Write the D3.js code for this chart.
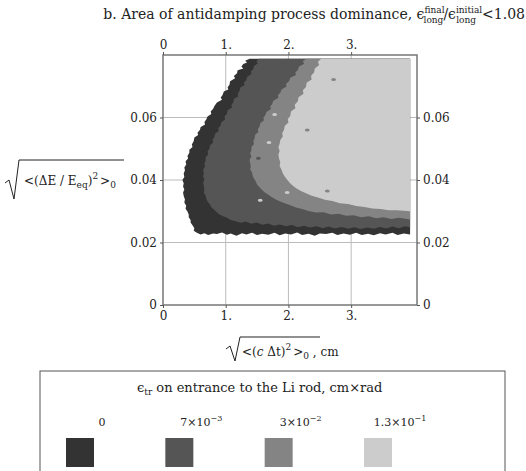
<!DOCTYPE html>
<html>
<head>
<meta charset="utf-8">
<script src="https://cdn.jsdelivr.net/npm/d3@7"></script>
<style>
body { margin: 0; background: #fff; }
text { font-family: "DejaVu Serif", serif; fill: #222; }
</style>
</head>
<body>
<svg id="chart" width="526" height="471"></svg>
<script>
// tick values
var xTicks = [0, 1, 2, 3];
var xTickLabels = ["0", "1.", "2.", "3."];
var yTicks = [0, 0.02, 0.04, 0.06];
var yTickLabels = ["0", "0.02", "0.04", "0.06"];

// region boundaries [x, y], one polygon per emittance level (nested)
var level0 = [[1.38,0.0788],[1.31,0.0782],[1.34,0.0776],[1.28,0.0771],[1.25,0.0763],[1.28,0.0757],[1.19,0.0751],
	[1.18,0.0742],[1.13,0.0733],[1.15,0.0726],[1.07,0.0716],[1.06,0.0705],[1.03,0.0697],[1.04,0.0690],[0.97,0.0683],
	[0.95,0.0672],[0.92,0.0664],[0.94,0.0657],[0.86,0.0648],[0.82,0.0637],[0.80,0.0628],[0.76,0.0619],[0.77,0.0611],
	[0.71,0.0603],[0.69,0.0594],[0.66,0.0586],[0.67,0.0578],[0.60,0.0570],[0.59,0.0561],[0.55,0.0551],[0.56,0.0544],
	[0.50,0.0536],[0.49,0.0525],[0.46,0.0514],[0.47,0.0506],[0.42,0.0497],[0.42,0.0487],[0.39,0.0477],[0.40,0.0469],
	[0.36,0.0460],[0.37,0.0450],[0.34,0.0440],[0.35,0.0431],[0.33,0.0421],[0.34,0.0410],[0.31,0.0400],[0.33,0.0390],
	[0.32,0.0379],[0.34,0.0370],[0.32,0.0360],[0.33,0.0349],[0.35,0.0338],[0.34,0.0328],[0.37,0.0318],[0.36,0.0308],
	[0.39,0.0299],[0.41,0.0290],[0.41,0.0281],[0.44,0.0272],[0.44,0.0264],[0.47,0.0255],[0.50,0.0246],[0.49,0.0238],
	[0.54,0.0231],
	[0.60,0.0226],[0.66,0.0230],[0.72,0.0224],[0.80,0.0229],[0.86,0.0227],[0.94,0.0232],[1.02,0.0225],[1.08,0.0229],
	[1.17,0.0222],[1.26,0.0230],[1.33,0.0226],[1.42,0.0231],[1.50,0.0224],[1.58,0.0228],[1.68,0.0225],[1.78,0.0231],
	[1.86,0.0223],[1.95,0.0229],[2.04,0.0226],[2.14,0.0232],[2.22,0.0224],[2.32,0.0228],[2.42,0.0222],[2.50,0.0229],
	[2.60,0.0227],[2.70,0.0231],[2.78,0.0224],[2.88,0.0229],[2.98,0.0225],[3.08,0.0231],[3.17,0.0224],[3.27,0.0228],
	[3.36,0.0223],[3.46,0.0230],[3.55,0.0226],[3.66,0.0231],[3.74,0.0224],[3.84,0.0229],[3.94,0.0226],[3.94,0.0788]];
var level1 = [[1.53,0.0788],[1.49,0.0780],[1.51,0.0773],[1.45,0.0765],[1.44,0.0755],[1.40,0.0747],[1.41,0.0739],
	[1.34,0.0730],[1.33,0.0720],[1.29,0.0712],[1.30,0.0704],[1.23,0.0695],[1.22,0.0685],[1.19,0.0676],[1.20,0.0668],
	[1.13,0.0659],[1.12,0.0648],[1.09,0.0640],[1.10,0.0632],[1.03,0.0623],[1.02,0.0612],[0.98,0.0603],[0.99,0.0594],
	[0.93,0.0585],[0.92,0.0575],[0.88,0.0566],[0.89,0.0557],[0.83,0.0548],[0.82,0.0538],[0.79,0.0529],[0.80,0.0520],
	[0.75,0.0511],[0.74,0.0500],[0.71,0.0491],[0.72,0.0482],[0.68,0.0473],[0.68,0.0462],[0.66,0.0452],[0.67,0.0443],
	[0.64,0.0433],[0.65,0.0422],[0.64,0.0412],[0.66,0.0402],[0.64,0.0391],[0.65,0.0381],[0.66,0.0370],[0.65,0.0360],
	[0.68,0.0350],[0.69,0.0340],[0.71,0.0331],[0.75,0.0322],[0.77,0.0313],[0.82,0.0304],[0.86,0.0297],[0.90,0.0290],
	[0.96,0.0284],[1.02,0.0279],[1.08,0.0272],[1.16,0.0268],[1.24,0.0263],
	[1.32,0.0267],[1.41,0.0260],[1.50,0.0264],[1.58,0.0257],[1.68,0.0261],[1.77,0.0254],[1.86,0.0258],[1.96,0.0252],
	[2.06,0.0256],[2.15,0.0249],[2.25,0.0254],[2.34,0.0248],[2.45,0.0252],[2.55,0.0246],[2.64,0.0251],[2.74,0.0245],
	[2.85,0.0250],[2.95,0.0244],[3.05,0.0249],[3.15,0.0243],[3.26,0.0248],[3.36,0.0244],[3.46,0.0250],[3.56,0.0245],
	[3.66,0.0251],[3.76,0.0246],[3.86,0.0252],[3.94,0.0249],[3.94,0.0788]];
var level2 = [[2.28,0.0788],[2.23,0.0780],[2.25,0.0772],[2.17,0.0763],[2.15,0.0752],[2.11,0.0744],[2.12,0.0736],
	[2.03,0.0727],[2.01,0.0716],[1.96,0.0707],[1.97,0.0699],[1.89,0.0690],[1.87,0.0679],[1.83,0.0671],[1.84,0.0663],
	[1.76,0.0654],[1.74,0.0643],[1.71,0.0635],[1.72,0.0627],[1.65,0.0618],[1.63,0.0607],[1.60,0.0599],[1.61,0.0591],
	[1.55,0.0582],[1.54,0.0571],[1.51,0.0562],[1.52,0.0554],[1.47,0.0545],[1.46,0.0534],[1.44,0.0524],[1.45,0.0515],
	[1.41,0.0506],[1.41,0.0495],[1.39,0.0485],[1.41,0.0475],[1.38,0.0465],[1.39,0.0454],[1.40,0.0444],[1.39,0.0434],
	[1.42,0.0424],[1.43,0.0414],[1.45,0.0405],[1.48,0.0395],[1.50,0.0386],[1.54,0.0377],[1.58,0.0368],[1.62,0.0361],
	[1.68,0.0353],[1.73,0.0346],[1.80,0.0338],[1.86,0.0332],[1.95,0.0325],[2.03,0.0319],[2.12,0.0312],[2.22,0.0307],
	[2.32,0.0301],[2.44,0.0296],
	[2.56,0.0297],[2.68,0.0290],[2.80,0.0292],[2.92,0.0286],[3.04,0.0287],[3.16,0.0281],[3.28,0.0284],[3.40,0.0278],
	[3.52,0.0281],[3.64,0.0275],[3.76,0.0279],[3.94,0.0274],[3.94,0.0788]];
var level3 = [[2.52,0.0788],[2.47,0.0778],[2.49,0.0768],[2.42,0.0757],[2.41,0.0745],[2.36,0.0733],[2.37,0.0722],
	[2.29,0.0711],[2.28,0.0698],[2.23,0.0687],[2.24,0.0676],[2.16,0.0665],[2.15,0.0652],[2.10,0.0641],[2.11,0.0630],
	[2.04,0.0619],[2.03,0.0606],[1.99,0.0595],[2.00,0.0584],[1.94,0.0573],[1.93,0.0561],[1.90,0.0550],[1.91,0.0539],
	[1.87,0.0528],[1.86,0.0516],[1.84,0.0505],[1.86,0.0493],[1.84,0.0481],[1.85,0.0469],[1.87,0.0457],[1.86,0.0445],
	[1.89,0.0433],[1.91,0.0422],[1.94,0.0411],[1.98,0.0401],[2.02,0.0391],[2.07,0.0382],[2.13,0.0373],[2.20,0.0365],
	[2.28,0.0358],[2.37,0.0350],[2.47,0.0344],[2.58,0.0337],
	[2.70,0.0333],[2.82,0.0326],[2.95,0.0323],[3.08,0.0317],[3.21,0.0314],[3.34,0.0309],[3.47,0.0307],[3.60,0.0303],
	[3.73,0.0303],[3.94,0.0300],[3.94,0.0788]];

// scattered patches inside the bands [level, x, y]
var specks = [[3,1.69,0.0520],[3,1.55,0.0335],[3,1.98,0.0360],[3,1.78,0.0610],
	[2,2.30,0.0560],[2,2.62,0.0365],[2,2.72,0.0722],[1,1.60,0.0615],[1,1.52,0.0470]];

var levels = [level0, level1, level2, level3];
var levelColors = ["#333333", "#555555", "#848484", "#cccccc"];
var legendLabels = ["0", "7×10", "3×10", "1.3×10"];
var legendExps = ["", "−3", "−2", "−1"];

function draw() {
	var svg = d3.select("#chart");

	var x = d3.scaleLinear().domain([0, 4.05]).range([163, 417]);
	var y = d3.scaleLinear().domain([0, 0.08]).range([305, 55]);

	// grid
	svg.selectAll("line.gx")
		.data(xTicks.slice(1))
		.enter()
		.append("line")
		.attr("x1", d => x(d)).attr("x2", d => x(d))
		.attr("y1", y(0)).attr("y2", y(0.08))
		.attr("stroke", "#bbb").attr("stroke-width", 1);
	svg.selectAll("line.gy")
		.data(yTicks.slice(1))
		.enter()
		.append("line")
		.attr("y1", d => y(d)).attr("y2", d => y(d))
		.attr("x1", x(0)).attr("x2", x(4.05))
		.attr("stroke", "#bbb").attr("stroke-width", 1);

	// regions
	var line = d3.line()
		.x(d => x(d[0]))
		.y(d => y(d[1]))
		.curve(d3.curveLinearClosed);
	svg.selectAll("path.region")
		.data(levels)
		.enter()
		.append("path")
		.attr("class", "region")
		.attr("d", line)
		.attr("fill", (d, i) => levelColors[i]);

	svg.selectAll("ellipse.speck")
		.data(specks)
		.enter()
		.append("ellipse")
		.attr("class", "speck")
		.attr("cx", d => x(d[1]))
		.attr("cy", d => y(d[2]))
		.attr("rx", 2.4).attr("ry", 1.5)
		.attr("fill", d => levelColors[d[0]]);

	// frame
	svg.append("rect")
		.attr("x", x(0)).attr("y", y(0.08))
		.attr("width", x(4.05) - x(0)).attr("height", y(0) - y(0.08))
		.attr("fill", "none").attr("stroke", "#777").attr("stroke-width", 1.5);

	var axB = d3.axisBottom(x).tickValues(xTicks).tickFormat((d, i) => xTickLabels[i]).tickSize(3).tickSizeOuter(0);
	var axT = d3.axisTop(x).tickValues(xTicks).tickFormat((d, i) => xTickLabels[i]).tickSize(3).tickSizeOuter(0);
	var axL = d3.axisLeft(y).tickValues(yTicks).tickFormat((d, i) => yTickLabels[i]).tickSize(3).tickSizeOuter(0);
	var axR = d3.axisRight(y).tickValues(yTicks).tickFormat((d, i) => yTickLabels[i]).tickSize(3).tickSizeOuter(0);

	[[axB, "translate(0," + y(0) + ")"], [axT, "translate(0," + y(0.08) + ")"],
	 [axL, "translate(" + x(0) + ",0)"], [axR, "translate(" + x(4.05) + ",0)"]].forEach(a => {
		var g = svg.append("g").attr("transform", a[1]).call(a[0]);
		g.select(".domain").remove();
		g.selectAll(".tick line").attr("stroke", "#555");
		g.selectAll(".tick text").attr("fill", "#222").style("font-family", "DejaVu Serif").style("font-size", "12px");
	});

	// title
	var title = svg.append("text")
		.attr("x", 525).attr("y", 19)
		.attr("text-anchor", "end")
		.style("font-size", "14px");
	title.append("tspan").text("b. Area of antidamping process dominance, ϵ");
	title.append("tspan").attr("dy", -6).style("font-size", "9px").text("final");
	title.append("tspan").attr("dx", -21).attr("dy", 10).style("font-size", "9px").text("long");
	title.append("tspan").attr("dy", -4).text("/ϵ");
	title.append("tspan").attr("dy", -6).style("font-size", "9px").text("initial");
	title.append("tspan").attr("dx", -26).attr("dy", 10).style("font-size", "9px").text("long");
	title.append("tspan").attr("dx", 6).attr("dy", -4).text("<1.08");

	// y axis label
	svg.append("path")
		.attr("d", "M5,183 L9,180 L14,199 L19,160 H124")
		.attr("fill", "none").attr("stroke", "#222").attr("stroke-width", 1);
	var yl = svg.append("text").attr("x", 24).attr("y", y(0.04) + 5).style("font-size", "12px");
	yl.append("tspan").text("<(ΔE / E");
	yl.append("tspan").attr("dy", 3).style("font-size", "9px").text("eq");
	yl.append("tspan").attr("dy", -3).text(")");
	yl.append("tspan").attr("dy", -6).style("font-size", "9px").text("2");
	yl.append("tspan").attr("dx", 2).attr("dy", 6).text(">");
	yl.append("tspan").attr("dy", 3).style("font-size", "9px").text("0");

	// x axis label
	svg.append("path")
		.attr("d", "M226,349 L230,346 L235,361 L240,337 H320")
		.attr("fill", "none").attr("stroke", "#222").attr("stroke-width", 1);
	var xl = svg.append("text").attr("x", 242).attr("y", 356).style("font-size", "12px");
	xl.append("tspan").text("<(");
	xl.append("tspan").style("font-style", "italic").text("c");
	xl.append("tspan").text(" Δt)");
	xl.append("tspan").attr("dy", -6).style("font-size", "9px").text("2");
	xl.append("tspan").attr("dx", 2).attr("dy", 6).text(">");
	xl.append("tspan").attr("dy", 3).style("font-size", "9px").text("0");
	xl.append("tspan").attr("dy", -3).text(" , cm");

	// legend
	svg.append("rect")
		.attr("x", 40).attr("y", 371).attr("width", 465).attr("height", 120)
		.attr("fill", "none").attr("stroke", "#555").attr("stroke-width", 1);
	var lt = svg.append("text").attr("x", 137).attr("y", 392).style("font-size", "13px");
	lt.append("tspan").text("ϵ");
	lt.append("tspan").attr("dy", 3).style("font-size", "9px").text("tr");
	lt.append("tspan").attr("dy", -3).text(" on entrance to the Li rod, cm×rad");

	var lx = d3.scalePoint().domain(d3.range(levelColors.length)).range([80, 378]);
	var items = svg.selectAll("g.legend-item")
		.data(levelColors)
		.enter()
		.append("g")
		.attr("transform", (d, i) => "translate(" + lx(i) + ",0)");
	items.append("rect")
		.attr("x", -14).attr("y", 438).attr("width", 28).attr("height", 29)
		.attr("fill", d => d);
	items.each(function(d, i) {
		var t = d3.select(this).append("text")
			.attr("x", 22).attr("y", 426).attr("text-anchor", "middle")
			.style("font-size", "11px");
		t.append("tspan").text(legendLabels[i]);
		if (legendExps[i]) t.append("tspan").attr("dy", -5).style("font-size", "8px").text(legendExps[i]);
	});
}

window.addEventListener("DOMContentLoaded", draw);
</script>
</body>
</html>
